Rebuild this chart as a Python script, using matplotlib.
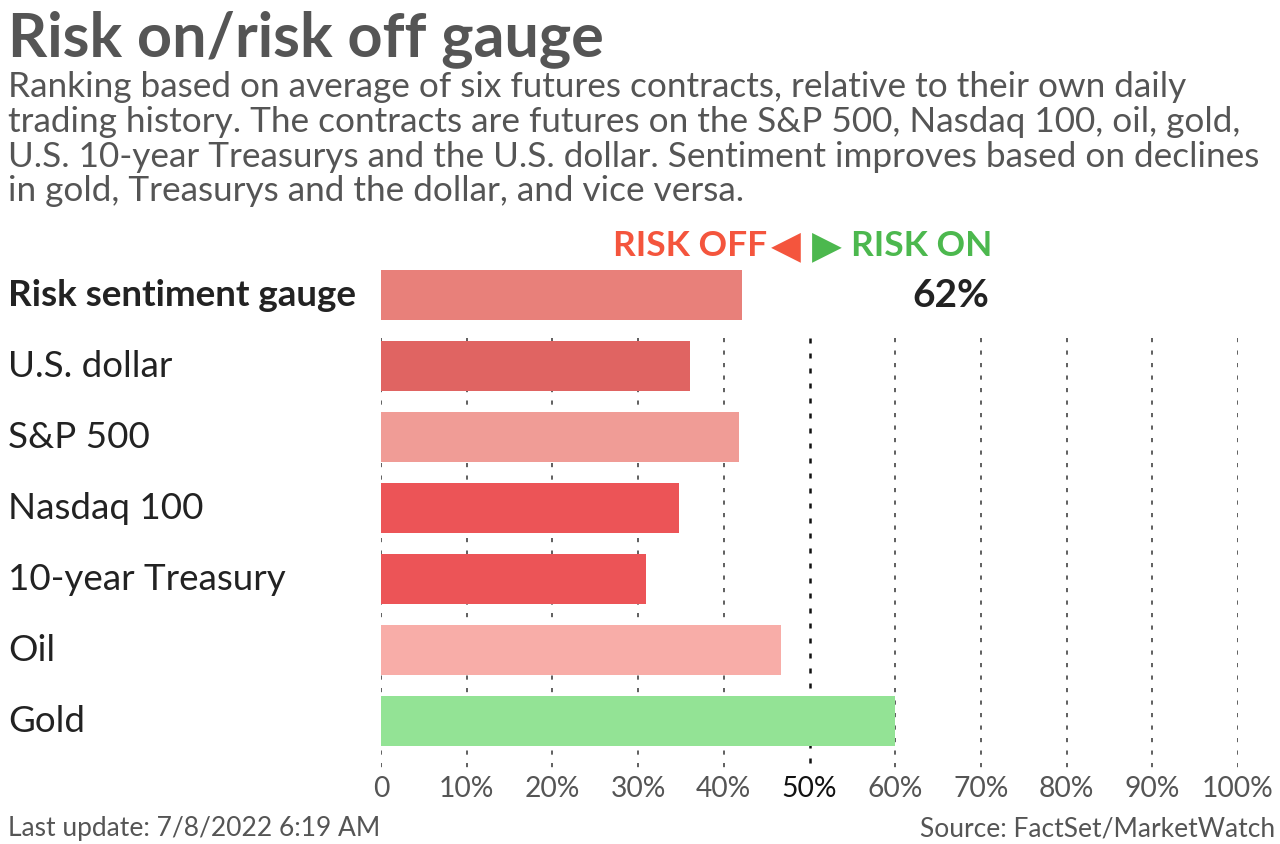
"""Risk on/risk off gauge - horizontal bar chart"""

import matplotlib
matplotlib.use("Agg")
import matplotlib.pyplot as plt
import matplotlib.transforms as mtransforms

plt.rcParams["font.family"] = ["Lato", "DejaVu Sans"]

categories = ["Risk sentiment gauge", "U.S. dollar", "S&P 500", "Nasdaq 100",
              "10-year Treasury", "Oil", "Gold"]
values = [42.1, 36.0, 41.8, 34.8, 30.9, 46.7, 60.0]
bar_colors = ["#e8807a", "#e06462", "#f09c96", "#ec5457", "#ec5457", "#f8ada8", "#93e395"]
gauge_label = "62%"
xticks = [0, 10, 20, 30, 40, 50, 60, 70, 80, 90, 100]
xticklabels = ["0", "10%", "20%", "30%", "40%", "50%", "60%", "70%", "80%", "90%", "100%"]

W, H = 1280, 844
fig = plt.figure(figsize=(12.8, 8.44), dpi=100)

def fy(px):
    return 1 - px / H

# title and subtitle
fig.text(8 / W, fy(56), "Risk on/risk off gauge", fontsize=44, fontweight="bold",
         color="#555555", va="baseline")
subtitle = [
    "Ranking based on average of six futures contracts, relative to their own daily",
    "trading history. The contracts are futures on the S&P 500, Nasdaq 100, oil, gold,",
    "U.S. 10-year Treasurys and the U.S. dollar. Sentiment improves based on declines",
    "in gold, Treasurys and the dollar, and vice versa.",
]
for i, line in enumerate(subtitle):
    fig.text(8 / W, fy(97 + i * 34.8), line, fontsize=25.3, color="#555555", va="baseline")

ax = fig.add_axes([381 / W, fy(775), (1238 - 381) / W, (775 - 259.5) / H])
y = list(range(len(categories)))
ax.barh(y, values, height=0.7, color=bar_colors, zorder=3)
ax.set_xlim(0, 100)
ax.set_ylim(6.76, -0.5)

# gridlines below the gauge row
for t in xticks:
    if t == 50:
        ax.vlines(t, 0.6, 6.66, color="#111111", linewidth=1.8,
                  linestyle=(0, (2, 4)), zorder=2)
    else:
        ax.vlines(t, 0.6, 6.66, color="#444444", linewidth=1.2,
                  linestyle=(0, (2.5, 5)), zorder=2)

for s in ax.spines.values():
    s.set_visible(False)
ax.set_yticks([])
ax.set_xticks(xticks)
ax.set_xticklabels(xticklabels)
ax.tick_params(axis="x", length=0, pad=0.5, labelsize=20.3, labelcolor="#555555")
ax.get_xticklabels()[5].set_color("#111111")

# category labels
trans = mtransforms.blended_transform_factory(fig.transFigure, ax.transData)
for i, name in enumerate(categories):
    ax.text(8 / W, i, name, transform=trans, fontsize=26.5, va="center", ha="left",
            color="#222222", fontweight="bold" if i == 0 else "normal")

ax.text(66.5, 0, gauge_label, fontsize=28, fontweight="bold", color="#222222",
        ha="center", va="center")

# risk off / risk on header
fig.text(767 / W, fy(256), "RISK OFF", fontsize=25.5, fontweight="bold",
         color="#f4553d", ha="right", va="baseline")
fig.text(786 / W, fy(257), "\u25c0", fontsize=28, color="#f4553d",
         ha="center", va="baseline", family="DejaVu Sans")
fig.text(827 / W, fy(257), "\u25b6", fontsize=28, color="#4cb84e",
         ha="center", va="baseline", family="DejaVu Sans")
fig.text(851 / W, fy(256), "RISK ON", fontsize=25.5, fontweight="bold",
         color="#4cb84e", ha="left", va="baseline")

# footer
fig.text(8 / W, fy(836), "Last update: 7/8/2022 6:19 AM", fontsize=19,
         color="#555555", va="baseline")
fig.text(1275 / W, fy(836), "Source: FactSet/MarketWatch", fontsize=19,
         color="#555555", va="baseline", ha="right")

fig.savefig("out.png", dpi=100, facecolor="white")
